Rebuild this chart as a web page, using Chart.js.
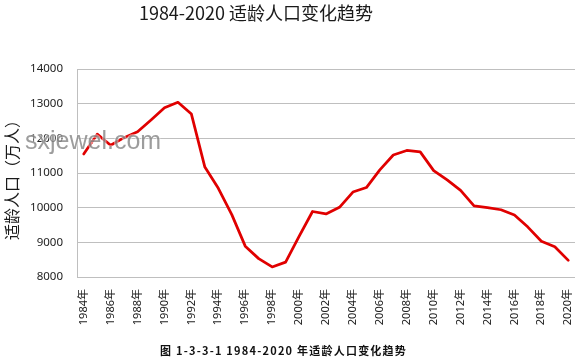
<!DOCTYPE html>
<html>
<head>
<meta charset="utf-8">
<script src="https://cdn.jsdelivr.net/npm/chart.js@4/dist/chart.umd.min.js"></script>
<style>
html,body{margin:0;padding:0;background:#fff;}
#wrap{width:580px;height:359px;position:relative;}
</style>
</head>
<body>
<div id="wrap"><canvas id="c" width="580" height="359"></canvas></div>
<script>
const chartTitle = '1984-2020 适龄人口变化趋势';
const yAxisTitle = '适龄人口（万人）';
const caption = '图 1-3-3-1 1984-2020 年适龄人口变化趋势';
const watermark = 'sxjewel.com';

const years = ['1984年','1985年','1986年','1987年','1988年','1989年','1990年','1991年','1992年','1993年',
  '1994年','1995年','1996年','1997年','1998年','1999年','2000年','2001年','2002年','2003年',
  '2004年','2005年','2006年','2007年','2008年','2009年','2010年','2011年','2012年','2013年',
  '2014年','2015年','2016年','2017年','2018年','2019年','2020年'];
const population = [11550,12120,11800,12020,12190,12530,12880,13040,12700,11170,
  10560,9800,8890,8530,8290,8430,9170,9890,9820,10010,
  10450,10580,11090,11520,11650,11610,11070,10800,10500,10050,
  10000,9940,9790,9440,9030,8870,8480];
const yTicks = [8000,9000,10000,11000,12000,13000,14000];

const FONT = '"Noto Sans", "Noto Sans CJK SC", sans-serif';

const textPlugin = {
  id: 'textPlugin',
  afterDraw(chart) {
    const ctx = chart.ctx;
    ctx.save();
    ctx.fillStyle = '#1a1a1a';
    ctx.font = '18px "Noto Sans CJK SC", "Noto Sans", sans-serif';
    ctx.textAlign = 'center';
    ctx.textBaseline = 'middle';
    ctx.fillText(chartTitle, 256, 13);
    ctx.save();
    ctx.translate(12, 176);
    ctx.rotate(-Math.PI / 2);
    ctx.font = '16px "Noto Sans CJK SC", sans-serif';
    ctx.fillStyle = '#1a1a1a';
    ctx.fillText(yAxisTitle, 0, 0);
    ctx.restore();
    ctx.font = 'bold 11px "Noto Sans CJK SC", sans-serif';
    ctx.fillStyle = '#111';
    const n = Array.from(caption).length;
    ctx.letterSpacing = '0px';
    const w = ctx.measureText(caption).width;
    const ls = Math.max(0, (247 - w) / n);
    ctx.letterSpacing = ls.toFixed(2) + 'px';
    ctx.textAlign = 'left';
    ctx.fillText(caption, 160, 351);
    ctx.letterSpacing = '0px';
    ctx.font = '25px "Liberation Sans", Arial, sans-serif';
    ctx.lineWidth = 2;
    ctx.strokeStyle = 'rgba(255,255,255,0.5)';
    ctx.textAlign = 'left';
    ctx.strokeText(watermark, 25, 142);
    ctx.fillStyle = 'rgba(115,115,115,0.7)';
    ctx.fillText(watermark, 25, 142);
    ctx.restore();
  }
};

new Chart(document.getElementById('c'), {
  type: 'line',
  data: {
    labels: years,
    datasets: [{
      data: population,
      borderColor: '#e00000',
      borderWidth: 2.75,
      pointRadius: 0,
      tension: 0,
      fill: false,
      borderJoinStyle: 'round',
      borderCapStyle: 'round'
    }]
  },
  options: {
    responsive: false,
    animation: false,
    devicePixelRatio: 1,
    layout: { padding: { top: 69, right: 5, left: 0, bottom: 0 } },
    plugins: { legend: { display: false }, tooltip: { enabled: false }, title: { display: false } },
    scales: {
      x: {
        offset: true,
        grid: { display: false, drawTicks: false },
        border: { display: false },
        ticks: {
          autoSkip: false,
          minRotation: 90,
          maxRotation: 90,
          padding: 12,
          color: '#222',
          font: { family: FONT, size: 11 },
          callback: function(v, i) { return i % 2 === 0 ? years[i] : ''; }
        },
        afterFit: function(s) { s.height = 82; s.paddingLeft = 0; s.paddingRight = 0; }
      },
      y: {
        min: 8000,
        max: 14000,
        afterBuildTicks: function(s) { s.ticks = yTicks.map(v => ({ value: v })); },
        grid: { color: '#bfbfbf', lineWidth: 1, drawTicks: false },
        border: { display: true, color: '#bfbfbf', width: 1 },
        ticks: {
          padding: 14,
          color: '#222',
          font: { family: FONT, size: 11.5 },
          callback: function(v) { return String(v); }
        },
        afterFit: function(s) { s.width = 77; s.paddingTop = 0; s.paddingBottom = 0; }
      }
    }
  },
  plugins: [textPlugin]
});
</script>
</body>
</html>
